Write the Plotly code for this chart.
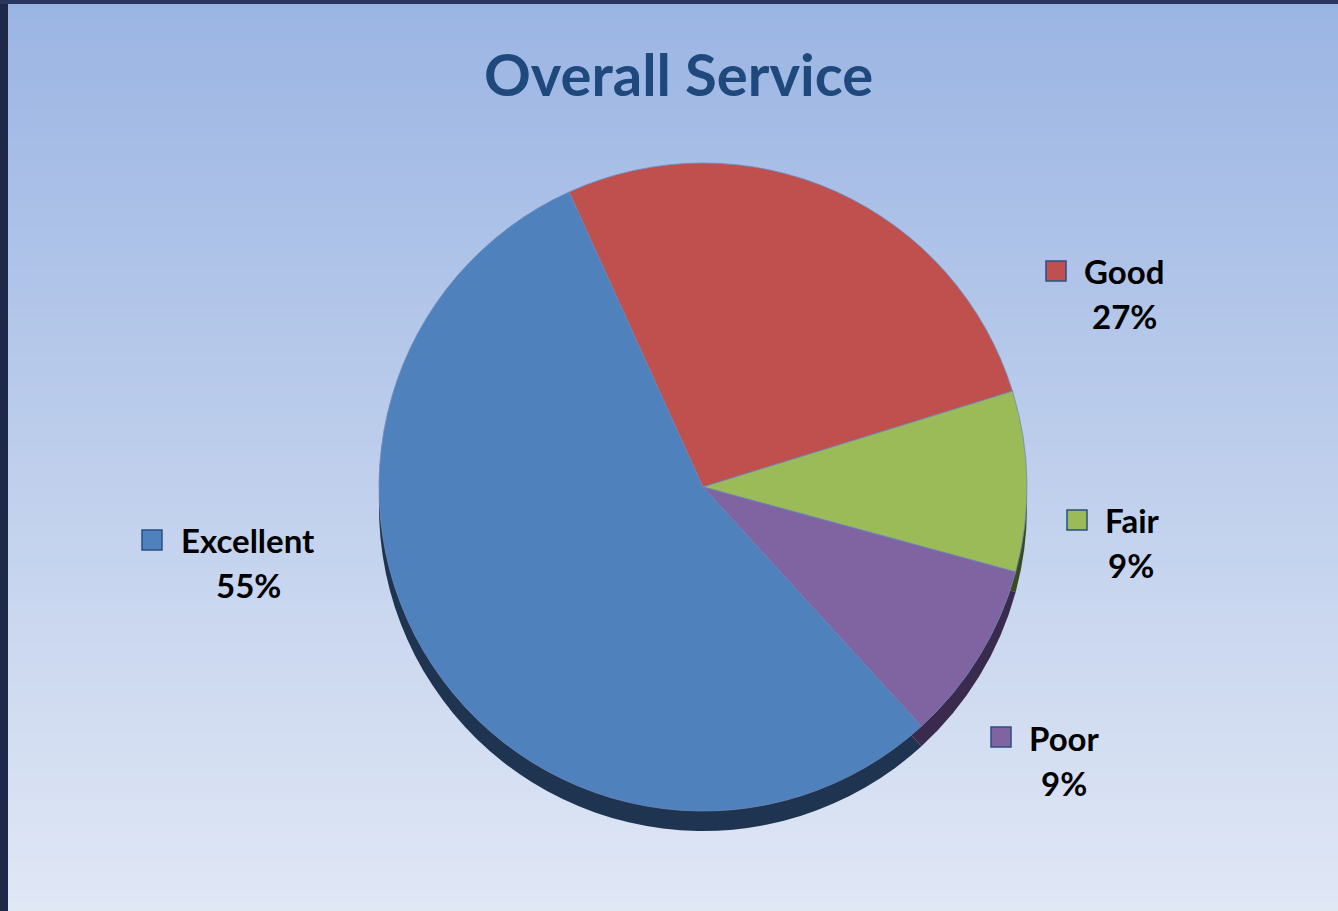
import plotly.graph_objects as go

# Survey results
categories = ["Excellent", "Good", "Fair", "Poor"]
shares = [55, 27, 9, 9]

slice_colors = ["#4f81bd", "#c0504d", "#9bbb59", "#8064a2"]
rim_colors = ["#1f3450", "#4a1f1e", "#3b4a22", "#3a2a4e"]

W, H = 1338, 911


def px_x(x):
    return x / W


def px_y(y):
    return 1 - y / H


# pie geometry (pixels)
cx, cy, r = 703, 487, 324
depth = 20

fig = go.Figure()

# extruded rim: same pie, darker, shifted down
fig.add_trace(go.Pie(
    labels=categories, values=shares, sort=False, direction="clockwise",
    rotation=137.6, textinfo="none", hoverinfo="skip",
    marker=dict(colors=rim_colors, line=dict(width=0)),
    domain=dict(x=[px_x(cx - r), px_x(cx + r)],
                y=[px_y(cy + depth + r), px_y(cy + depth - r)]),
    showlegend=False,
))

# top face
fig.add_trace(go.Pie(
    labels=categories, values=shares, sort=False, direction="clockwise",
    rotation=137.6, textinfo="none",
    marker=dict(colors=slice_colors, line=dict(width=0.8, color="#6d8cbc")),
    domain=dict(x=[px_x(cx - r), px_x(cx + r)],
                y=[px_y(cy + r), px_y(cy - r)]),
    showlegend=False,
))

shapes = []
# vertical background gradient
top_rgb = (155, 181, 227)
bot_rgb = (224, 231, 245)
steps = 92
for i in range(steps):
    t = i / (steps - 1)
    c = tuple(round(a + (b - a) * t) for a, b in zip(top_rgb, bot_rgb))
    y0 = i * H / steps
    y1 = (i + 1) * H / steps + 1
    shapes.append(dict(type="rect", xref="paper", yref="paper", layer="below",
                       x0=0, x1=1, y0=px_y(min(y1, H)), y1=px_y(y0),
                       fillcolor="rgb(%d,%d,%d)" % c, line=dict(width=0)))
# dark frame edges
shapes.append(dict(type="rect", xref="paper", yref="paper", layer="below",
                   x0=0, x1=px_x(8), y0=0, y1=1,
                   fillcolor="#1e2848", line=dict(width=0)))
shapes.append(dict(type="rect", xref="paper", yref="paper", layer="below",
                   x0=0, x1=1, y0=px_y(4), y1=1,
                   fillcolor="#2a3560", line=dict(width=0)))

# label placement (pixels): marker square left/top, name center, percent center
label_pos = {
    "Good": dict(sq=(1046, 261), name=(1124, 271), pct=(1124, 316)),
    "Fair": dict(sq=(1067, 510), name=(1132, 520), pct=(1131, 565)),
    "Poor": dict(sq=(991, 727), name=(1064, 738), pct=(1064, 783)),
    "Excellent": dict(sq=(142, 530), name=(248, 540), pct=(248, 585)),
}
sq = 20
label_font = dict(family="Lato, 'Open Sans', sans-serif", size=33,
                  color="#000000", weight=700)

annotations = [dict(
    text="Overall Service", xref="paper", yref="paper",
    x=px_x(679), y=px_y(73), xanchor="center", yanchor="middle",
    showarrow=False,
    font=dict(family="Lato, 'Open Sans', sans-serif", size=58,
              color="#1f497d", weight=700),
)]

for cat, val, col in zip(categories, shares, slice_colors):
    p = label_pos[cat]
    x0, y0 = p["sq"]
    shapes.append(dict(type="rect", xref="paper", yref="paper",
                       x0=px_x(x0), x1=px_x(x0 + sq),
                       y0=px_y(y0 + sq), y1=px_y(y0),
                       fillcolor=col, line=dict(width=1.5, color="#2d4f82")))
    annotations.append(dict(text=cat, xref="paper", yref="paper",
                            x=px_x(p["name"][0]), y=px_y(p["name"][1]),
                            xanchor="center", yanchor="middle", showarrow=False,
                            font=label_font))
    annotations.append(dict(text="%d%%" % val, xref="paper", yref="paper",
                            x=px_x(p["pct"][0]), y=px_y(p["pct"][1]),
                            xanchor="center", yanchor="middle", showarrow=False,
                            font=label_font))

fig.update_layout(
    width=W, height=H,
    margin=dict(l=0, r=0, t=0, b=0),
    paper_bgcolor="#c4d2ee",
    plot_bgcolor="rgba(0,0,0,0)",
    shapes=shapes,
    annotations=annotations,
    showlegend=False,
)

fig.write_html("out.html", config={"displayModeBar": False})
